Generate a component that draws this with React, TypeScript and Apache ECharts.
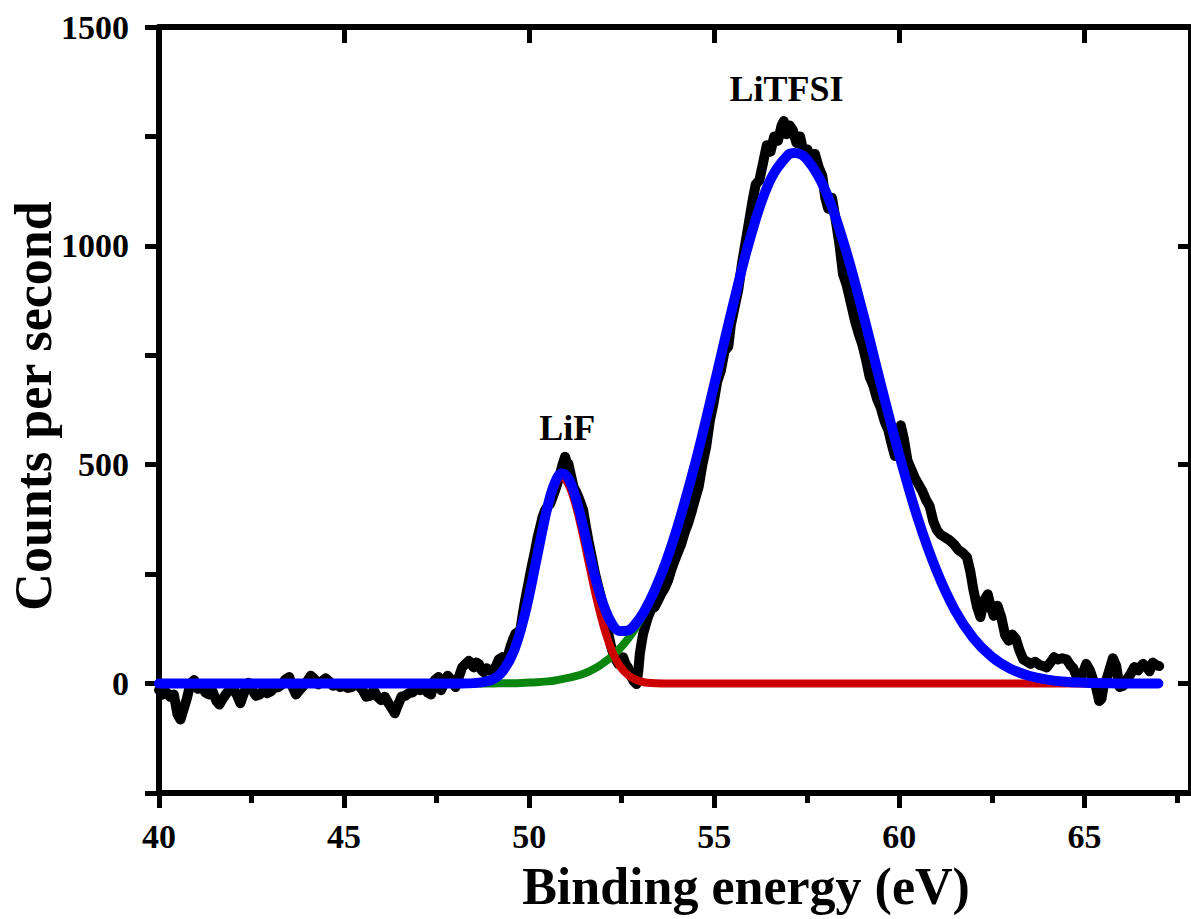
import React, { useEffect, useRef } from 'react';
import * as echarts from 'echarts';

const FONT = "'Liberation Serif', 'Times New Roman', Times, serif";

// Axis ticks
const xMajorTicks = [40, 45, 50, 55, 60, 65];
const xMinorTicks = [42.5, 47.5, 52.5, 57.5, 62.5, 67.5];
const xTopTicks = [45, 50, 55, 60, 65];
const yRightTicks = [0, 500, 1000, 1500];

// Measured spectrum (binding energy eV, counts per second)
const measured: [number, number][] = [
  [40.0, -15], [40.1, -25], [40.2, -20], [40.3, -30], [40.4, -25], [40.5, -70], [40.58, -82], [40.66, -60],
  [40.75, -35], [40.85, 0], [40.95, 8], [41.05, -12], [41.15, -5], [41.25, -20], [41.35, -25], [41.45, -18],
  [41.55, -40], [41.63, -48], [41.72, -35], [41.8, -25], [41.9, -15], [42.0, -10], [42.1, -25], [42.2, -45],
  [42.3, -20], [42.42, 2], [42.52, -15], [42.62, -28], [42.72, -25], [42.82, -15], [42.92, -22], [43.02, -18],
  [43.12, -10], [43.22, -8], [43.32, -2], [43.42, 10], [43.52, 15], [43.62, -10], [43.7, -25], [43.8, -15],
  [43.9, -5], [44.0, 5], [44.1, 18], [44.2, 10], [44.3, -2], [44.4, 5], [44.5, 12], [44.6, 5], [44.7, -5],
  [44.8, -2], [44.9, -8], [45.0, -5], [45.1, -10], [45.2, -8], [45.3, -2], [45.4, -5], [45.5, -15], [45.6, -30],
  [45.7, -28], [45.8, -15], [45.9, -30], [46.0, -38], [46.1, -30], [46.2, -45], [46.28, -55], [46.37, -68],
  [46.45, -50], [46.55, -30], [46.65, -28], [46.75, -22], [46.85, -20], [46.95, -12], [47.05, -15], [47.15, -8],
  [47.25, -20], [47.35, -25], [47.45, 8], [47.55, 15], [47.62, -15], [47.7, 0], [47.8, 18], [47.9, 8],
  [48.01, -8], [48.1, 15], [48.19, 37], [48.28, 45], [48.37, 52], [48.5, 37], [48.57, 48], [48.64, 45],
  [48.72, 30], [48.77, 26], [48.85, 35], [48.91, 30], [49.0, 32], [49.09, 37], [49.18, 55], [49.27, 60],
  [49.35, 52], [49.4, 55], [49.49, 83], [49.56, 100], [49.63, 114], [49.7, 118], [49.76, 121], [49.83, 160],
  [49.89, 190], [49.96, 220], [50.03, 251], [50.1, 280], [50.16, 304], [50.23, 335], [50.3, 358], [50.36, 380],
  [50.43, 396], [50.5, 405], [50.57, 411], [50.63, 425], [50.7, 441], [50.77, 460], [50.84, 480], [50.9, 500],
  [50.97, 518], [51.02, 505], [51.06, 502], [51.13, 475], [51.2, 449], [51.27, 438], [51.33, 426], [51.4, 410],
  [51.46, 396], [51.53, 360], [51.6, 327], [51.69, 290], [51.78, 251], [51.87, 220], [51.96, 190], [52.05, 150],
  [52.14, 114], [52.2, 90], [52.27, 68], [52.34, 55], [52.41, 45], [52.48, 55], [52.54, 60], [52.6, 45],
  [52.67, 37], [52.74, 20], [52.81, 7], [52.9, -1], [52.95, 30], [52.99, 68], [53.04, 95], [53.08, 114],
  [53.15, 135], [53.21, 152], [53.3, 170], [53.39, 175], [53.48, 190], [53.57, 205], [53.66, 218], [53.75, 235],
  [53.84, 260], [53.93, 281], [54.02, 300], [54.11, 319], [54.2, 345], [54.29, 365], [54.38, 390], [54.47, 418],
  [54.58, 450], [54.68, 500], [54.78, 540], [54.88, 600], [54.98, 640], [55.08, 690], [55.18, 715], [55.28, 760],
  [55.38, 770], [55.45, 820], [55.55, 860], [55.65, 900], [55.75, 960], [55.85, 1010], [55.95, 1060], [56.05, 1110],
  [56.12, 1140], [56.22, 1150], [56.32, 1190], [56.42, 1230], [56.52, 1215], [56.62, 1250], [56.72, 1240],
  [56.82, 1275], [56.88, 1285], [56.96, 1255], [57.04, 1275], [57.12, 1265], [57.22, 1235], [57.32, 1250],
  [57.42, 1210], [57.52, 1220], [57.62, 1190], [57.72, 1210], [57.82, 1180], [57.92, 1160], [58.0, 1110],
  [58.08, 1085], [58.18, 1110], [58.28, 1060], [58.38, 1005], [58.48, 935], [58.58, 910], [58.69, 870],
  [58.8, 830], [58.9, 800], [59.0, 775], [59.1, 740], [59.2, 700], [59.3, 680], [59.4, 650], [59.5, 630],
  [59.6, 600], [59.7, 580], [59.8, 545], [59.88, 520], [59.96, 545], [60.04, 590], [60.12, 560], [60.22, 510],
  [60.32, 490], [60.42, 470], [60.52, 455], [60.62, 440], [60.72, 420], [60.82, 405], [60.92, 370], [61.02, 350],
  [61.12, 340], [61.22, 335], [61.35, 328], [61.48, 318], [61.6, 305], [61.72, 298], [61.83, 288], [61.92, 255],
  [62.0, 215], [62.1, 175], [62.19, 152], [62.29, 190], [62.39, 204], [62.47, 175], [62.55, 155], [62.65, 178],
  [62.76, 150], [62.86, 110], [62.95, 98], [63.05, 112], [63.15, 102], [63.25, 75], [63.35, 55], [63.45, 50],
  [63.55, 45], [63.67, 50], [63.8, 42], [63.9, 40], [63.98, 37], [64.08, 48], [64.18, 60], [64.28, 55],
  [64.4, 58], [64.52, 55], [64.62, 42], [64.7, 35], [64.8, 15], [64.87, 5], [64.95, 22], [65.05, 45],
  [65.15, 30], [65.25, 5], [65.32, -10], [65.4, -40], [65.46, -35], [65.53, 0], [65.6, 10], [65.68, 32],
  [65.77, 58], [65.86, 40], [65.95, -8], [66.05, -5], [66.13, 8], [66.25, 22], [66.35, 38], [66.45, 30],
  [66.58, 45], [66.68, 38], [66.76, 28], [66.85, 48], [66.94, 42], [67.02, 40],
];

// LiF component fit (red)
const lifFit: [number, number][] = [
  [40, 0], [45, 0], [48, 0], [48.5, 1], [49, 9], [49.3, 29], [49.6, 76], [49.9, 162], [50.2, 281], [50.5, 400],
  [50.7, 453], [50.88, 470], [51.05, 457], [51.25, 410], [51.45, 340], [51.65, 260], [51.85, 184], [52.05, 120],
  [52.25, 72], [52.45, 40], [52.65, 21], [52.85, 10], [53.1, 3], [53.4, 1], [53.7, 0], [55, 0], [60, 0], [67, 0],
];

// LiTFSI component fit (green)
const litfsiFit: [number, number][] = [
  [40, 0], [45, 0], [48, 0], [49, 0], [49.3, 1], [49.6, 1], [49.9, 2], [50.2, 3], [50.5, 5], [50.7, 7],
  [50.88, 10], [51.05, 13], [51.25, 17], [51.45, 22], [51.65, 29], [51.85, 38], [52.05, 50], [52.25, 63],
  [52.45, 80], [52.65, 100], [52.85, 124], [53.1, 161], [53.4, 214], [53.7, 279], [54, 356], [54.5, 508],
  [55, 683], [55.5, 862], [56, 1026], [56.5, 1148], [57, 1208], [57.17, 1212], [57.5, 1198], [58, 1127],
  [58.5, 1006], [59, 852], [59.5, 684], [60, 522], [60.5, 377], [61, 259], [61.5, 168], [62, 104], [62.5, 61],
  [63, 34], [63.5, 18], [64, 9], [64.5, 4], [65, 2], [65.5, 1], [66, 0], [67, 0],
];

// Envelope fit (blue)
const envelopeFit: [number, number][] = [
  [40, 0], [45, 0], [48, 0], [48.5, 1], [49, 9], [49.3, 30], [49.6, 77], [49.9, 164], [50.2, 284], [50.5, 405],
  [50.7, 460], [50.88, 480], [51.05, 470], [51.25, 427], [51.45, 362], [51.65, 289], [51.85, 222], [52.05, 170],
  [52.25, 135], [52.45, 120], [52.65, 121], [52.85, 134], [53.1, 164], [53.4, 215], [53.7, 279], [54, 356],
  [54.5, 508], [55, 683], [55.5, 862], [56, 1026], [56.5, 1148], [57, 1208], [57.17, 1212], [57.5, 1198],
  [58, 1127], [58.5, 1006], [59, 852], [59.5, 684], [60, 522], [60.5, 377], [61, 259], [61.5, 168], [62, 104],
  [62.5, 61], [63, 34], [63.5, 18], [64, 9], [64.5, 4], [65, 2], [65.5, 1], [66, 0], [67, 0],
];

const peakLabels: [number, number, string][] = [
  [51.03, 584, 'LiF'],
  [56.95, 1358, 'LiTFSI'],
];

const xTitle = 'Binding energy (eV)';
const yTitle = 'Counts per second';

export default function App() {
  const ref = useRef<HTMLDivElement>(null);
  useEffect(() => {
    document.body.style.margin = '0';
    if (!ref.current) return;
    const chart = echarts.init(ref.current, undefined, { renderer: 'svg' });
    const axisLine = { show: true, onZero: false, lineStyle: { color: '#000', width: 6 } };
    const tickStyle = { color: '#000', width: 5 };
    const labelStyle = { fontFamily: FONT, fontSize: 34, fontWeight: 'bold' as const, color: '#000' };
    chart.setOption({
      animation: false,
      backgroundColor: '#fff',
      grid: { left: 159, top: 27, width: 1036, height: 766, containLabel: false },
      xAxis: [
        {
          type: 'value', position: 'bottom', min: 40, max: 67.88,
          axisLine,
          axisTick: { show: true, inside: false, length: 15, customValues: xMajorTicks, lineStyle: tickStyle },
          axisLabel: { show: true, customValues: xMajorTicks, margin: 26, ...labelStyle },
          splitLine: { show: false },
        },
        {
          type: 'value', position: 'bottom', min: 40, max: 67.88,
          axisLine: { show: false, onZero: false },
          axisTick: { show: true, inside: false, length: 10, customValues: xMinorTicks, lineStyle: tickStyle },
          axisLabel: { show: false },
          splitLine: { show: false },
        },
        {
          type: 'value', position: 'top', min: 40, max: 67.88,
          axisLine,
          axisTick: { show: true, inside: true, length: 16, customValues: xTopTicks, lineStyle: tickStyle },
          axisLabel: { show: false },
          splitLine: { show: false },
        },
      ],
      yAxis: [
        {
          type: 'value', position: 'left', min: -250, max: 1500, interval: 250,
          axisLine,
          axisTick: { show: true, inside: false, length: 14, lineStyle: tickStyle },
          axisLabel: {
            show: true, margin: 30, ...labelStyle,
            formatter: (v: number) => (v % 500 === 0 ? String(v) : ''),
          },
          splitLine: { show: false },
        },
        {
          type: 'value', position: 'right', min: -250, max: 1500,
          axisLine,
          axisTick: { show: true, inside: true, length: 13, customValues: yRightTicks, lineStyle: tickStyle },
          axisLabel: { show: false },
          splitLine: { show: false },
        },
      ],
      series: [
        {
          type: 'line', data: measured, showSymbol: false, symbol: 'none',
          lineStyle: { color: '#000', width: 10, join: 'round', cap: 'round' },
        },
        {
          type: 'line', data: litfsiFit, showSymbol: false, symbol: 'none', smooth: 0.4,
          lineStyle: { color: '#0a860f', width: 8, cap: 'round' },
        },
        {
          type: 'line', data: lifFit, showSymbol: false, symbol: 'none', smooth: 0.4,
          lineStyle: { color: '#cc0000', width: 8, cap: 'round' },
        },
        {
          type: 'line', data: envelopeFit, showSymbol: false, symbol: 'none', smooth: 0.4,
          lineStyle: { color: '#0000ff', width: 10, cap: 'round' },
        },
        {
          type: 'scatter', data: peakLabels, symbolSize: 0, silent: true,
          itemStyle: { color: '#000', opacity: 0 },
          label: {
            show: true, position: 'inside', fontFamily: FONT, fontSize: 36, fontWeight: 'bold', color: '#000',
            textBorderWidth: 0, textBorderColor: 'transparent', opacity: 1,
            formatter: (p: any) => p.value[2],
          },
        },
      ],
      graphic: [
        {
          type: 'text', x: 746, y: 886,
          style: {
            text: xTitle, font: `bold 52px ${FONT}`, fill: '#000',
            align: 'center', verticalAlign: 'middle', textAlign: 'center', textVerticalAlign: 'middle',
          },
        },
        {
          type: 'text', x: 33, y: 406, rotation: Math.PI / 2,
          style: {
            text: yTitle, font: `bold 52px ${FONT}`, fill: '#000',
            align: 'center', verticalAlign: 'middle', textAlign: 'center', textVerticalAlign: 'middle',
          },
        },
      ],
    });
    return () => chart.dispose();
  }, []);
  return <div ref={ref} style={{ width: 1191, height: 919, overflow: 'hidden' }} />;
}
